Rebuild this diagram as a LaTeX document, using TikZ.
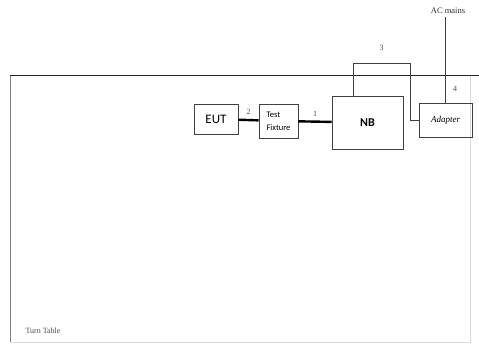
\documentclass[tikz,border=0pt]{standalone}
\usepackage{fontspec}
\setmainfont{Liberation Serif}
\newfontfamily\calibri{Carlito}
\usepackage{tikz}
\usetikzlibrary{positioning,calc}
\usepackage{xcolor}

\begin{document}
\begin{tikzpicture}[x=1pt,y=-1pt,
  unit/.style={draw=black!75,line width=0.8pt,inner sep=0pt,font=\calibri},
  num/.style={font=\fontsize{8}{8}\selectfont,text=black!70}]
\useasboundingbox (0,0) rectangle (479,346);
\draw[black!15] (10,342) -- (470,342) -- (470,75);
\draw[black!50,line width=1pt] (10,342) -- (10,75);
\draw[black!85,line width=1pt] (10,75) -- (479,75);
\node[font=\fontsize{8}{8}\selectfont,text=black!70,anchor=west] (room) at (22,331) {Turn Table};
\node[unit,minimum width=44pt,minimum height=30pt,font=\calibri\fontsize{13}{13}\selectfont] (eut) at (216,119) {EUT};
\node[unit,minimum width=39pt,minimum height=34pt,align=left,font=\calibri\fontsize{8.5}{13}\selectfont] (tf) at (278.5,121) {Test\\Fixture};
\node[unit,minimum width=71pt,minimum height=53pt,font=\calibri\bfseries\fontsize{12}{12}\selectfont] (nb) at (367.5,122.5) {NB};
\node[unit,minimum width=53pt,minimum height=34pt,font=\fontsize{9}{9}\selectfont\itshape] (adp) at (445.5,120) {Adapter};
\node[font=\fontsize{8.5}{8.5}\selectfont,text=black!80] (ac) at (448,11) {AC mains};
\coordinate (looptop) at (410,63);
\draw[line width=2.4pt] (eut) -- node[num,above=1pt] {2} (tf);
\draw[line width=2.4pt] (tf) -- node[num,above=1pt] {1} (nb);
\draw[black!75,line width=0.8pt] ($(nb.north west)!0.3!(nb.north east)$) |- node[num,pos=0.75,above=9pt] {3} (looptop) |- (adp.west);
\draw[black!75,line width=0.8pt] (adp.north) -- node[num,pos=0.16,right=4pt] {4} (adp.north |- ac.south);
\end{tikzpicture}
\end{document}
